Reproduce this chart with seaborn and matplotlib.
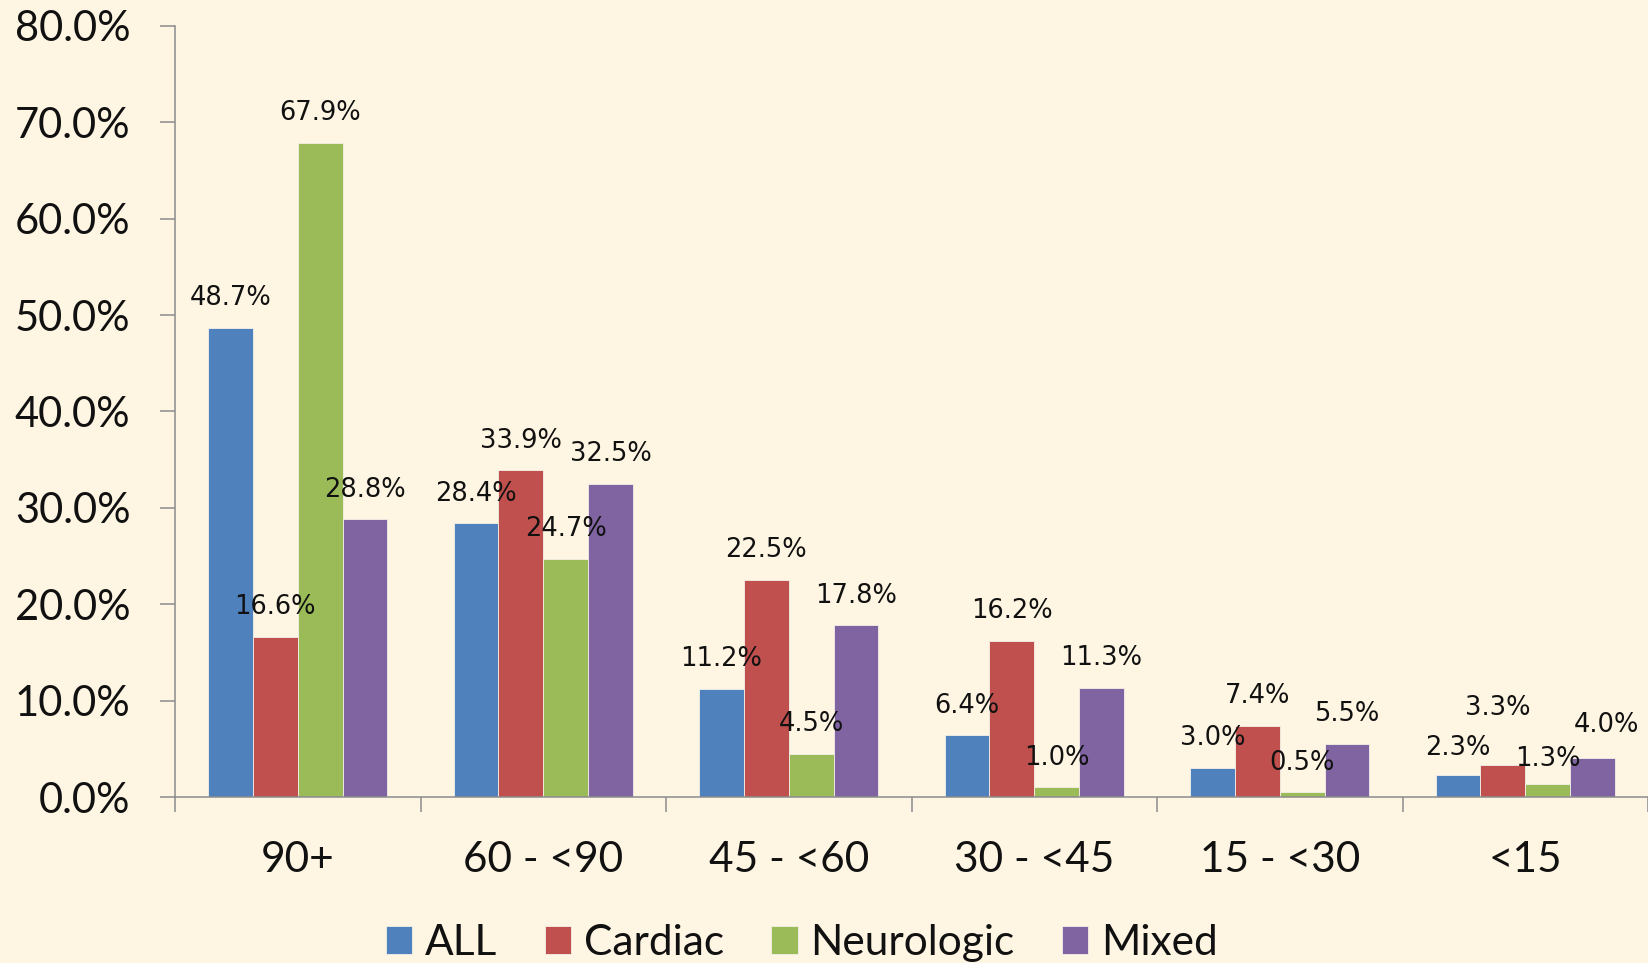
import matplotlib
matplotlib.use("Agg")
import matplotlib.pyplot as plt
import seaborn as sns
import pandas as pd
import numpy as np
from matplotlib.ticker import FixedLocator, FuncFormatter

categories = ["90+", "60 - <90", "45 - <60", "30 - <45", "15 - <30", "<15"]
series_names = ["ALL", "Cardiac", "Neurologic", "Mixed"]
all_vals = [48.7, 28.4, 11.2, 6.4, 3.0, 2.3]
cardiac_vals = [16.6, 33.9, 22.5, 16.2, 7.4, 3.3]
neuro_vals = [67.9, 24.7, 4.5, 1.0, 0.5, 1.3]
mixed_vals = [28.8, 32.5, 17.8, 11.3, 5.5, 4.0]
colors = ["#4F81BD", "#C0504D", "#9BBB59", "#8064A2"]
y_ticks = [0, 10, 20, 30, 40, 50, 60, 70, 80]

bg = "#FEF5E3"
spine_col = "#8C8C8C"

rows = []
for name, vals in zip(series_names, [all_vals, cardiac_vals, neuro_vals, mixed_vals]):
    for c, v in zip(categories, vals):
        rows.append({"category": c, "series": name, "value": v})
df = pd.DataFrame(rows)

sns.set_theme(style="white")
plt.rcParams["font.family"] = ["Lato", "DejaVu Sans"]

fig = plt.figure(figsize=(16.48, 9.63), dpi=100, facecolor=bg)
ax = fig.add_axes([175 / 1648, 1 - 797 / 963, 1 - 175 / 1648, (797 - 26) / 963])
ax.set_facecolor(bg)

sns.barplot(data=df, x="category", y="value", hue="series", order=categories,
            hue_order=series_names, palette=colors, width=0.73, gap=0,
            edgecolor="#F4F0E8", linewidth=0.6, saturation=1, ax=ax, legend=True)

label_sets = []
for cont in ax.containers:
    labels = [f"{b.get_height():.1f}%" for b in cont]
    texts = ax.bar_label(cont, labels=labels, padding=12, fontsize=18.5,
                         fontfamily="DejaVu Sans", color="#111111")
    label_sets.append(texts)

# manual nudges of the crowded last group, as in the original chart
def nudge(t, dx, dy):
    x0, y0 = t.xyann
    t.xyann = (x0 + dx, y0 + dy)

nudge(label_sets[0][5], 0, -2)
nudge(label_sets[1][5], -4, 20)
nudge(label_sets[2][5], 0, -3)
nudge(label_sets[3][5], 10, 3)

ax.set_xlim(-0.5, 5.5)
ax.set_ylim(0, 80)
ax.yaxis.set_major_locator(FixedLocator(y_ticks))
ax.yaxis.set_major_formatter(FuncFormatter(lambda v, p: f"{v:.1f}%"))
ax.set_xlabel("")
ax.set_ylabel("")

for s in ["top", "right"]:
    ax.spines[s].set_visible(False)
for s in ["left", "bottom"]:
    ax.spines[s].set_color(spine_col)
    ax.spines[s].set_linewidth(1.1)

ax.tick_params(axis="y", which="major", left=True, length=11, width=1.1,
               color=spine_col, labelsize=30, pad=21, labelcolor="#111111")
ax.tick_params(axis="x", which="major", bottom=True, length=0, labelsize=30.5,
               pad=32, labelcolor="#111111")
ax.set_xticks(np.arange(-0.5, 5.6, 1.0), minor=True)
ax.tick_params(axis="x", which="minor", bottom=True, length=11, width=1.1,
               color=spine_col)

leg = ax.get_legend()
handles, labs = ax.get_legend_handles_labels()
leg.remove()
fig.legend(handles, labs, loc="center", bbox_to_anchor=(802 / 1648, 1 - 943 / 963),
           ncol=4, frameon=False, fontsize=30.5, handlelength=0.62,
           handleheight=0.62, handletextpad=0.3, columnspacing=1.12,
           borderaxespad=0, labelcolor="#111111")

fig.savefig("out.png", dpi=100, facecolor=bg)
